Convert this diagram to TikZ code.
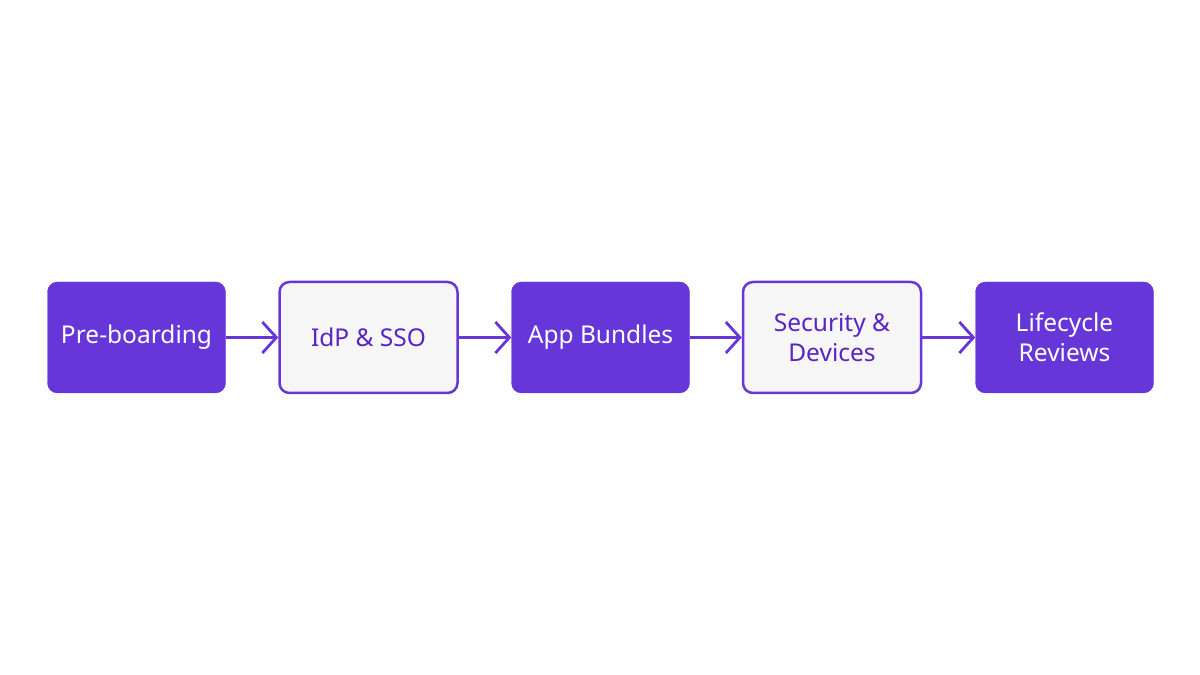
\documentclass[tikz,border=0pt]{standalone}
\usepackage{fontspec}
\setmainfont{Noto Sans}
\usetikzlibrary{arrows.meta}
\definecolor{violet}{HTML}{6736D8}
\definecolor{lightbg}{HTML}{F6F6F7}
\definecolor{darkviolet}{HTML}{5A24C2}
\tikzset{
  box/.style={rounded corners=10pt, minimum width=178pt, minimum height=111pt, align=center, font=\fontsize{24.5}{30}\selectfont, inner sep=0pt},
  solidbox/.style={box, fill=violet, draw=violet, text=white},
  openbox/.style={box, fill=lightbg, draw=violet, line width=2.5pt, text=darkviolet},
  link/.style={draw=violet, line width=2.8pt, -{Straight Barb[length=14pt, width=31pt, line width=2.8pt]}}
}
\begin{document}
\begin{tikzpicture}[x=1pt,y=1pt]
\useasboundingbox (0,0) rectangle (1200,675);
\node[solidbox] (a) at (136.5,337.5) {Pre-boarding};
\node[openbox] (b) at (368.5,337.5) {IdP \& SSO};
\node[solidbox] (c) at (600.5,337.5) {App Bundles};
\node[openbox] (d) at (832,337.5) {Security \&\\Devices};
\node[solidbox] (e) at (1064.5,337.5) {Lifecycle\\Reviews};
\draw[link] (a) -- (b);
\draw[link] (b) -- (c);
\draw[link] (c) -- (d);
\draw[link] (d) -- (e);
\end{tikzpicture}
\end{document}
